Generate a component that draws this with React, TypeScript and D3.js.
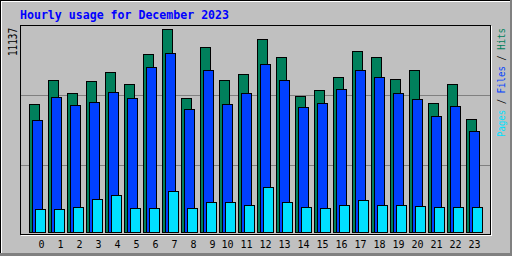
import React from "react";
import * as d3 from "d3";

const hours = d3.range(24).map(String);
const hits = [7006, 8322, 7609, 8268, 8761, 8103, 9749, 11137, 7335, 10133, 8322, 8652, 10572, 9584, 7445, 7774, 8487, 9913, 9584, 8377, 8871, 7061, 8103, 6183];
const files = [6128, 7390, 6951, 7115, 7664, 7335, 9036, 9804, 6731, 8871, 7006, 7609, 9200, 8322, 6841, 7061, 7829, 8871, 8487, 7609, 7280, 6347, 6896, 5525];
const pages = [1245, 1245, 1355, 1794, 2013, 1300, 1300, 2233, 1300, 1629, 1629, 1465, 2452, 1629, 1355, 1300, 1465, 1739, 1465, 1465, 1410, 1355, 1355, 1355];
const maxLabel = "11137";
const title = "Hourly usage for December 2023";

const W = 512, H = 256;
const GREEN = "#00805C", BLUE = "#0040FF", CYAN = "#00E0FF";

export default function App() {
  const maxV = d3.max(hits) as number;
  const y = d3.scaleLinear().domain([0, maxV]).range([232, 29]);
  const x = d3.scaleLinear().domain([0, 23]).range([29, 29 + 23 * 19]);
  const series = [
    { data: hits, off: 0, color: GREEN },
    { data: files, off: 3, color: BLUE },
    { data: pages, off: 6, color: CYAN },
  ];
  const mono = "DejaVu Sans Mono, monospace";
  return (
    <svg width={W} height={H} style={{ position: "absolute", left: 0, top: 0 }} shapeRendering="crispEdges">
      <rect x={0} y={0} width={W} height={H} fill="#808080" />
      <rect x={0} y={0} width={510} height={253} fill="#000" />
      <rect x={1} y={1} width={509} height={252} fill="#fff" />
      <rect x={2} y={2} width={508} height={251} fill="#C0C0C0" />
      {/* plot area */}
      <line x1={21} y1={235.5} x2={492} y2={235.5} stroke="#fff" />
      <line x1={491.5} y1={26} x2={491.5} y2={236} stroke="#fff" />
      <rect x={20.5} y={25.5} width={470} height={209} fill="#C0C0C0" stroke="#000" />
      {[95, 165].map((g) => (
        <line key={g} x1={21} x2={490} y1={g + 0.5} y2={g + 0.5} stroke="#808080" />
      ))}
      {hours.map((h, i) => (
        <g key={h}>
          {series.map((s, k) => {
            const x1 = x(i) + s.off;
            const yt = Math.round(y(s.data[i]));
            return (
              <rect key={k} x={x1 + 0.5} y={yt + 0.5} width={10} height={232 - yt} fill={s.color} stroke="#000" />
            );
          })}
          <text x={x(i) + (h.length === 1 ? 9.5 : 2.5)} y={248} fontFamily={mono} fontSize={10} fill="#000">
            {h}
          </text>
        </g>
      ))}
      <text x={20} y={19} fontFamily={mono} fontWeight="bold" fontSize={11.6} fill="#0000FF" textLength={209} lengthAdjust="spacingAndGlyphs">
        {title}
      </text>
      <text transform="translate(16.5,28) rotate(-90)" textAnchor="end" fontFamily={mono} fontSize={11.5} fill="#000" textLength={28} lengthAdjust="spacingAndGlyphs">
        {maxLabel}
      </text>
      <text transform="translate(504.5,137) rotate(-90)" fontFamily={mono} fontSize={10} textLength={109} lengthAdjust="spacingAndGlyphs">
        <tspan fill={CYAN}>Pages</tspan>
        <tspan fill="#000"> / </tspan>
        <tspan fill={BLUE}>Files</tspan>
        <tspan fill="#000"> / </tspan>
        <tspan fill={GREEN}>Hits</tspan>
      </text>
    </svg>
  );
}
